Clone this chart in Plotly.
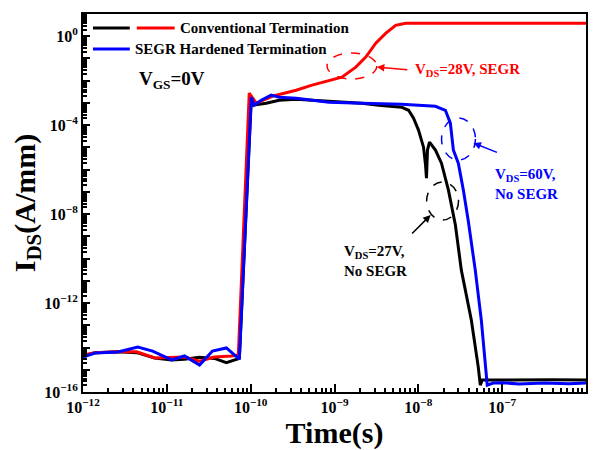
import numpy as np
import plotly.graph_objects as go

# ---- data (log10 of time [s] and log10 of I_DS [A/mm]) ----
black_log_t = [-12, -11.857, -11.584, -11.359, -11.145, -10.943, -10.789, -10.610, -10.432, -10.290, -10.135,
               -9.993, -9.981, -9.815, -9.660, -9.458, -9.067, -8.675, -8.473, -8.200, -8.116, -8.057, -7.998,
               -7.938, -7.914, -7.903, -7.891, -7.867, -7.796, -7.724, -7.641, -7.558, -7.487, -7.368, -7.285,
               -7.261, -7.238, -7.0, -6.7, -6.4, -6.0]
black_log_i = [-14.38, -14.23, -14.19, -14.23, -14.47, -14.56, -14.53, -14.44, -14.49, -14.68, -14.49,
               -2.88, -3.10, -3.01, -2.88, -2.83, -2.92, -3.01, -3.10, -3.19, -3.33, -3.69, -4.22,
               -4.99, -5.80, -6.38, -5.12, -4.76, -5.12, -5.71, -6.92, -8.49, -10.52, -12.76, -14.88,
               -15.69, -15.46, -15.45, -15.47, -15.45, -15.46]

red_log_t = [-12, -11.857, -11.584, -11.359, -11.145, -10.943, -10.789, -10.610, -10.432, -10.230, -10.147,
             -10.017, -9.933, -9.743, -9.458, -9.268, -9.067, -8.912, -8.746, -8.627, -8.508, -8.390,
             -8.271, -8.152, -7.9, -6.0]
red_log_i = [-14.34, -14.23, -14.19, -14.19, -14.47, -14.43, -14.43, -14.61, -14.43, -14.38, -14.34,
             -2.56, -3.01, -2.70, -2.43, -2.20, -1.98, -1.84, -1.39, -0.94, -0.31, 0.13,
             0.49, 0.58, 0.58, 0.58]

blue_log_t = [-12, -11.857, -11.584, -11.347, -11.169, -10.943, -10.789, -10.610, -10.456, -10.290, -10.135,
              -9.993, -9.957, -9.874, -9.755, -9.660, -9.458, -9.067, -8.675, -8.200, -7.796, -7.677,
              -7.618, -7.582, -7.523, -7.463, -7.404, -7.321, -7.249, -7.202, -7.178, -7.107, -7.0,
              -6.8, -6.5, -6.2, -6.0]
blue_log_i = [-14.43, -14.25, -14.20, -13.98, -14.16, -14.56, -14.38, -14.79, -14.16, -14.02, -14.52,
              -2.74, -3.10, -2.88, -2.65, -2.74, -2.79, -2.97, -3.01, -3.06, -3.15, -3.33,
              -3.91, -5.12, -5.71, -6.92, -8.31, -10.52, -12.76, -14.88, -15.69, -15.60, -15.58,
              -15.64, -15.60, -15.63, -15.60]

series_names = ["Conventional Termination (black)", "Conventional Termination", "SEGR Hardened Termination"]
x_tick_exps = [-12, -11, -10, -9, -8, -7, -6]
y_decade_exps = list(range(-16, 2))
y_label_exps = [0, -4, -8, -12, -16]

FONT = "Times New Roman, Liberation Serif, serif"

fig = go.Figure()
for lt, li, col, name in [(black_log_t, black_log_i, "black", series_names[0]),
                          (red_log_t, red_log_i, "#ff0000", series_names[1]),
                          (blue_log_t, blue_log_i, "#0000ff", series_names[2])]:
    fig.add_trace(go.Scatter(x=10 ** np.array(lt, dtype=float), y=10 ** np.array(li, dtype=float),
                             mode="lines", line=dict(color=col, width=3), name=name, showlegend=False))
# empty trace so the secondary (tick-only) y axis is drawn
fig.add_trace(go.Scatter(x=[], y=[], yaxis="y2", showlegend=False, hoverinfo="skip"))

def sup(e):
    return "<b>10<sup>%s</sup></b>" % (str(e).replace("-", "\u2212"))

x_minor = [m * 10.0 ** e for e in range(-12, -6) for m in range(2, 10)]
y_minor = [m * 10.0 ** e for e in range(-16, 1) for m in range(2, 10)]

axis_common = dict(showline=True, linecolor="black", linewidth=2, mirror=True, ticks="inside",
                   tickcolor="black", tickwidth=2, showgrid=False, zeroline=False,
                   tickfont=dict(family=FONT, size=16, color="black"))

fig.update_layout(
    xaxis=dict(type="log", range=[-12, -6],
               tickvals=[10.0 ** e for e in x_tick_exps], ticktext=[sup(e) for e in x_tick_exps],
               ticklen=8,
               minor=dict(tickvals=x_minor, ticks="inside", ticklen=4, tickwidth=1.5, tickcolor="black"),
               title=dict(text="<b>Time(s)</b>", font=dict(family=FONT, size=30, color="black"), standoff=0),
               **axis_common),
    yaxis=dict(type="log", range=[-16, 1],
               tickvals=[10.0 ** e for e in y_label_exps], ticktext=[sup(e) for e in y_label_exps],
               ticklen=7,
               minor=dict(tickvals=y_minor, ticks="inside", ticklen=3.5, tickwidth=1.5, tickcolor="black"),
               title=dict(text="<b>I<sub>DS</sub>(A/mm)</b>", font=dict(family=FONT, size=30, color="black"),
                          standoff=0),
               **axis_common),
    yaxis2=dict(type="log", range=[-16, 1], overlaying="y", side="left", showline=False, showgrid=False,
                zeroline=False, ticks="inside", ticklen=7, tickwidth=2, tickcolor="black",
                tickvals=[10.0 ** e for e in y_decade_exps], showticklabels=False),
)

W0, W1, H0, H1 = 83, 588, 14, 392
def px(x):
    return (x - W0) / (W1 - W0)
def py(y):
    return (H1 - y) / (H1 - H0)

shapes = []
annotations = []
# legend (drawn manually: two samples for the first entry)
for x0, x1, y, col in [(93, 130, 28, "black"), (137, 175, 28, "#ff0000"), (93, 130, 49, "#0000ff")]:
    shapes.append(dict(type="line", xref="paper", yref="paper", x0=px(x0), x1=px(x1), y0=py(y), y1=py(y),
                       line=dict(color=col, width=3)))
annotations.append(dict(xref="paper", yref="paper", x=px(178), y=py(28), xanchor="left", yanchor="middle",
                        text="<b>Conventional Termination</b>", showarrow=False,
                        font=dict(family=FONT, size=15, color="black")))
annotations.append(dict(xref="paper", yref="paper", x=px(133), y=py(49), xanchor="left", yanchor="middle",
                        text="<b>SEGR Hardened Termination</b>", showarrow=False,
                        font=dict(family=FONT, size=15, color="black")))
annotations.append(dict(xref="paper", yref="paper", x=px(137), y=py(80), xanchor="left", yanchor="middle",
                        text="<b>V<sub>GS</sub>=0V</b>", showarrow=False,
                        font=dict(family=FONT, size=19, color="black")))

# dashed ellipses
for cx, cy, rx, ry, col in [(353, 66, 25, 13, "#ff0000"), (460, 139, 17, 21, "#0000ff"), (444, 201, 16, 19, "black")]:
    shapes.append(dict(type="circle", xref="paper", yref="paper", x0=px(cx - rx), x1=px(cx + rx),
                       y0=py(cy + ry), y1=py(cy - ry), line=dict(color=col, width=1.5, dash="dash")))

# arrows
for hx, hy, tx, ty, col in [(378, 67, 410, 70, "#ff0000"), (475, 143, 500, 153, "#0000ff"),
                            (432, 215, 412, 235, "black")]:
    annotations.append(dict(xref="paper", yref="paper", x=px(hx), y=py(hy), ax=tx - hx, ay=ty - hy,
                            text="", showarrow=True, arrowhead=2, arrowsize=1, arrowwidth=1.5, arrowcolor=col))

annotations.append(dict(xref="paper", yref="paper", x=px(414), y=py(70), xanchor="left", yanchor="middle",
                        text="<b>V<sub>DS</sub>=28V, SEGR</b>", showarrow=False,
                        font=dict(family=FONT, size=15, color="#ff0000")))
annotations.append(dict(xref="paper", yref="paper", x=px(495), y=py(184), xanchor="left", yanchor="middle",
                        text="<b>V<sub>DS</sub>=60V,<br>No SEGR</b>", showarrow=False, align="left",
                        font=dict(family=FONT, size=15, color="#0000ff")))
annotations.append(dict(xref="paper", yref="paper", x=px(343), y=py(261), xanchor="left", yanchor="middle",
                        text="<b>V<sub>DS</sub>=27V,<br>No SEGR</b>", showarrow=False, align="left",
                        font=dict(family=FONT, size=15, color="black")))

fig.update_layout(width=597, height=450, margin=dict(l=W0, r=597 - W1, t=H0, b=450 - H1),
                  paper_bgcolor="white", plot_bgcolor="white", showlegend=False,
                  shapes=shapes, annotations=annotations)

fig.write_html("out.html")
